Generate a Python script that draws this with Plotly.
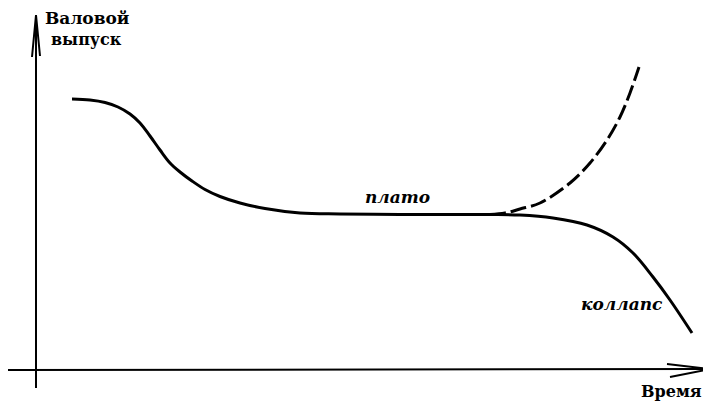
import plotly.graph_objects as go

# main path: rise, plateau, collapse (x = time, y = screen-down units)
main_x = [72, 90, 105, 118, 130, 140, 150, 160, 170, 180, 192, 205, 220, 240,
          265, 300, 340, 400, 450, 490, 520, 553, 587, 613, 633, 653, 670, 692]
main_y = [99, 100, 102.5, 107, 114, 123, 136, 150, 163, 172, 181, 189.5, 196.5, 203,
          208.5, 213, 214, 214.5, 214.5, 214.5, 215, 218, 225, 237, 253, 277, 300, 333]

# alternative growth branch (dashed)
alt_x = [490, 505, 520, 540, 570, 590, 607, 620, 630, 639]
alt_y = [214.5, 213, 209, 203, 183, 163, 140, 117, 93, 67]

# axes with open arrowheads
yaxis_x = [36, 36, None, 32, 36, 40]
yaxis_y = [388, 15, None, 57, 15, 56]
xaxis_x = [8, 709, None, 667, 710, 670]
xaxis_y = [370, 369, None, 364, 369, 377]

fig = go.Figure()

fig.add_trace(go.Scatter(x=yaxis_x, y=yaxis_y, mode="lines",
                         line=dict(color="black", width=2)))
fig.add_trace(go.Scatter(x=xaxis_x, y=xaxis_y, mode="lines",
                         line=dict(color="black", width=2)))
fig.add_trace(go.Scatter(x=main_x, y=main_y, mode="lines",
                         line=dict(color="black", width=3, shape="spline")))
fig.add_trace(go.Scatter(x=alt_x, y=alt_y, mode="lines",
                         line=dict(color="black", width=3, shape="spline",
                                   dash="16px,5px")))

serif = "DejaVu Serif"
labels = [
    (87, 29, "<b>Валовой</b>", "bottom", 17),
    (86, 29, "<b>выпуск</b>", "top", 16),
    (671, 391, "<b>Время</b>", "middle", 16),
    (397, 197, "<b><i>плато</i></b>", "middle", 17),
    (622, 304, "<b><i>коллапс</i></b>", "middle", 17),
]
for lx, ly, txt, anchor, fsize in labels:
    fig.add_annotation(x=lx, y=ly, text=txt, showarrow=False, yanchor=anchor,
                       borderpad=0,
                       font=dict(family=serif, size=fsize, color="black"))

# page body has an 8px margin, so the figure is 8px smaller and ranges start at 8
fig.update_layout(
    width=703, height=393,
    margin=dict(l=0, r=0, t=0, b=0),
    plot_bgcolor="white", paper_bgcolor="white",
    showlegend=False,
    xaxis=dict(range=[8, 711], visible=False),
    yaxis=dict(range=[401, 8], visible=False),
)

fig.write_html("out.html")
